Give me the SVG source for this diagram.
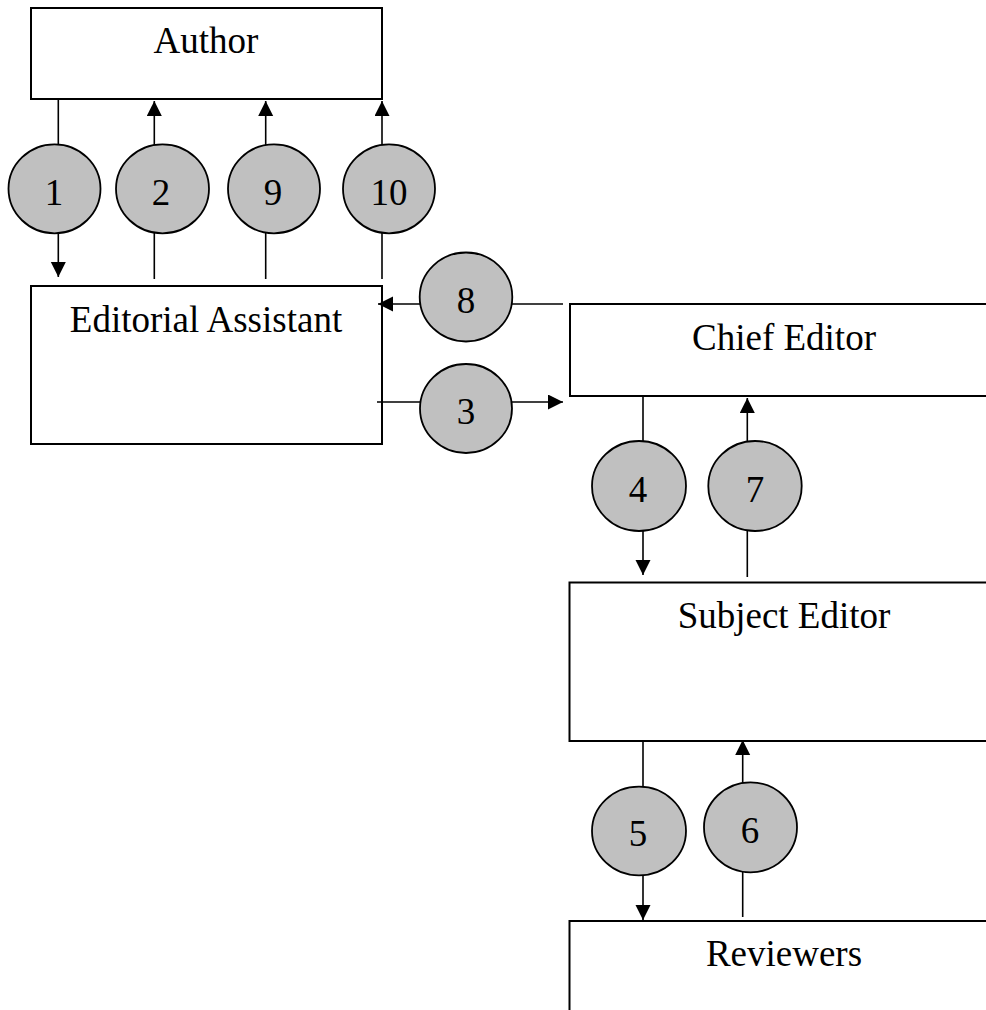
<svg xmlns="http://www.w3.org/2000/svg" width="986" height="1010" viewBox="0 0 986 1010">
<style>
.box{fill:#fff;stroke:#000;stroke-width:2}
.lbl{font-family:"Liberation Serif","Times New Roman",serif;font-size:37px;fill:#000;text-anchor:middle}
.num{font-family:"Liberation Serif","Times New Roman",serif;font-size:37px;fill:#000;text-anchor:middle}
.bub{fill:#c0c0c0;stroke:#000;stroke-width:1.8}
.con{stroke:#000;stroke-width:1.6;fill:none}
</style>
<defs>
<marker id="ah" markerUnits="userSpaceOnUse" markerWidth="16" markerHeight="16" refX="15" refY="7.5" orient="auto">
<path d="M0,0 L15,7.5 L0,15 z" fill="#000"/>
</marker>
</defs>
<rect width="986" height="1010" fill="#fff"/>
<g id="author"><rect class="box" x="31" y="8" width="351" height="91"/><text class="lbl" x="206" y="53">Author</text></g>
<g id="editorial-assistant"><rect class="box" x="31" y="286" width="351" height="158"/><text class="lbl" x="206" y="332">Editorial Assistant</text></g>
<g id="chief-editor"><rect class="box" x="570" y="304" width="460" height="92"/><text class="lbl" x="784" y="350">Chief Editor</text></g>
<g id="subject-editor"><rect class="box" x="569.5" y="582.5" width="460" height="158.5"/><text class="lbl" x="784" y="628">Subject Editor</text></g>
<g id="reviewers"><rect class="box" x="569.5" y="921" width="460" height="200"/><text class="lbl" x="784" y="966">Reviewers</text></g>
<g id="connectors">
<line class="con" x1="58.3" y1="99" x2="58.3" y2="277" marker-end="url(#ah)"/>
<line class="con" x1="154.3" y1="279" x2="154.3" y2="101" marker-end="url(#ah)"/>
<line class="con" x1="265.7" y1="279" x2="265.7" y2="101" marker-end="url(#ah)"/>
<line class="con" x1="382" y1="279" x2="382" y2="101" marker-end="url(#ah)"/>
<line class="con" x1="563" y1="304" x2="378" y2="304" marker-end="url(#ah)"/>
<line class="con" x1="377" y1="402" x2="563" y2="402" marker-end="url(#ah)"/>
<line class="con" x1="643" y1="396" x2="643" y2="575" marker-end="url(#ah)"/>
<line class="con" x1="747.3" y1="577" x2="747.3" y2="398" marker-end="url(#ah)"/>
<line class="con" x1="643" y1="741" x2="643" y2="920" marker-end="url(#ah)"/>
<line class="con" x1="742.7" y1="917" x2="742.7" y2="740" marker-end="url(#ah)"/>
</g>
<g id="step-1"><ellipse class="bub" cx="54.5" cy="188.8" rx="46" ry="44.5"/><text class="num" x="54" y="205">1</text></g>
<g id="step-2"><ellipse class="bub" cx="162.5" cy="188.8" rx="46.5" ry="44.5"/><text class="num" x="161" y="205">2</text></g>
<g id="step-9"><ellipse class="bub" cx="274" cy="188.8" rx="46" ry="44.5"/><text class="num" x="273" y="205">9</text></g>
<g id="step-10"><ellipse class="bub" cx="389" cy="188.8" rx="46" ry="44.5"/><text class="num" x="389" y="205">10</text></g>
<g id="step-8"><ellipse class="bub" cx="466" cy="297" rx="46.3" ry="44.5"/><text class="num" x="466" y="313">8</text></g>
<g id="step-3"><ellipse class="bub" cx="466" cy="408.5" rx="46" ry="44.5"/><text class="num" x="466" y="424">3</text></g>
<g id="step-4"><ellipse class="bub" cx="639" cy="486" rx="47" ry="45"/><text class="num" x="638" y="502">4</text></g>
<g id="step-7"><ellipse class="bub" cx="755" cy="486" rx="46.7" ry="45"/><text class="num" x="755" y="502">7</text></g>
<g id="step-5"><ellipse class="bub" cx="639" cy="831" rx="47" ry="44.3"/><text class="num" x="638" y="846">5</text></g>
<g id="step-6"><ellipse class="bub" cx="750.5" cy="827.3" rx="46.5" ry="45"/><text class="num" x="750" y="843">6</text></g>
</svg>
